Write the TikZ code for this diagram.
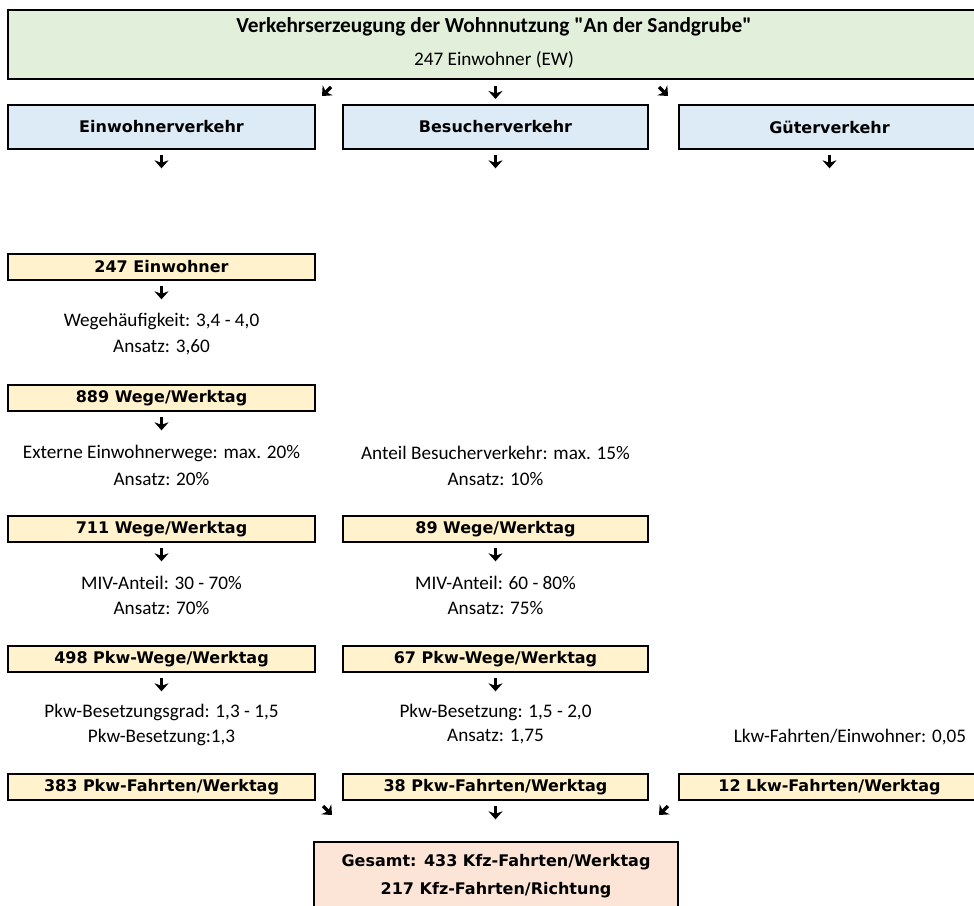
\documentclass[tikz,border=0pt]{standalone}
\usepackage{fontspec}
\setmainfont{Carlito}
\newfontfamily\boxfont{DejaVu Sans}
\newfontfamily\titlefont{Carlito}[Ligatures=TeXOff]
\usetikzlibrary{arrows.meta}

\definecolor{headgreen}{HTML}{E2EFDA}
\definecolor{typeblue}{HTML}{DDEBF7}
\definecolor{stepyellow}{HTML}{FFF2CC}
\definecolor{sumpeach}{HTML}{FCE4D6}

\tikzset{
  frame/.style={draw=black, line width=1.5pt, inner sep=0pt, anchor=center},
  headbox/.style={frame, fill=headgreen, minimum width=729pt, minimum height=51.75pt},
  typebox/.style={frame, fill=typeblue, minimum height=33pt,
    font=\boxfont\bfseries\fontsize{12}{14}\selectfont},
  stepbox/.style={frame, fill=stepyellow, minimum height=19.5pt,
    font=\boxfont\bfseries\fontsize{12}{14}\selectfont},
  sumbox/.style={frame, fill=sumpeach, minimum width=273pt, minimum height=58.5pt},
  sumtext/.style={inner sep=0pt, font=\boxfont\bfseries\fontsize{12}{14}\selectfont},
  note/.style={inner sep=0pt, font=\fontsize{14.4}{17}\selectfont},
  tick/.style={-{Stealth[length=6pt, width=10.5pt, inset=1.8pt]}, line width=2.6pt},
}

\begin{document}
\begin{tikzpicture}[x=0.75pt, y=-0.75pt]
  \useasboundingbox (0,0) rectangle (974,906);

  % Kopf
  \node[headbox] (head) at (494,44.5) {};
  \node[inner sep=0pt, font=\titlefont\bfseries\fontsize{16}{19}\selectfont] (title) at (494,27)
    {Verkehrserzeugung der Wohnnutzung "An der Sandgrube"};
  \node[note] (ewsum) at (494,60) {247 Einwohner (EW)};
  \coordinate (hl) at (331,87);
  \coordinate (hm) at (495.5,86);
  \coordinate (hr) at (659,87);
  \draw[tick] (hl) -- ++(-9,9);
  \draw[tick] (hm) -- ++(0,13);
  \draw[tick] (hr) -- ++(9,9);

  % Verkehrsarten
  \node[typebox, minimum width=230.25pt] (ew)  at (161.5,127) {Einwohnerverkehr};
  \node[typebox, minimum width=228.75pt] (bes) at (495.5,127) {Besucherverkehr};
  \node[typebox, minimum width=225.75pt] (gue) at (829.5,127) {Güterverkehr};
  \draw[tick] ([yshift=-4pt]ew.south)  -- ++(0,13);
  \draw[tick] ([yshift=-4pt]bes.south) -- ++(0,13);
  \draw[tick] ([yshift=-4pt]gue.south) -- ++(0,13);

  % Einwohnerverkehr
  \node[stepbox, minimum width=230.25pt] (ew1) at (161.5,267) {247 Einwohner};
  \draw[tick] ([yshift=-4pt]ew1.south) -- ++(0,13);
  \node[note] (ew1a) at (161.5,321) {Wegehäufigkeit: 3,4 - 4,0};
  \node[note] (ew1b) at (161.5,347) {Ansatz: 3,60};

  \node[stepbox, minimum width=230.25pt] (ew2) at (161.5,398) {889 Wege/Werktag};
  \draw[tick] ([yshift=-4pt]ew2.south) -- ++(0,13);
  \node[note] (ew2a) at (161.5,453) {Externe Einwohnerwege: max. 20\%};
  \node[note] (ew2b) at (161.5,479) {Ansatz: 20\%};

  \node[stepbox, minimum width=230.25pt] (ew3) at (161.5,529) {711 Wege/Werktag};
  \draw[tick] ([yshift=-4pt]ew3.south) -- ++(0,13);
  \node[note] (ew3a) at (161.5,583) {MIV-Anteil: 30 - 70\%};
  \node[note] (ew3b) at (161.5,608) {Ansatz: 70\%};

  \node[stepbox, minimum width=230.25pt] (ew4) at (161.5,659) {498 Pkw-Wege/Werktag};
  \draw[tick] ([yshift=-4pt]ew4.south) -- ++(0,13);
  \node[note] (ew4a) at (161.5,712) {Pkw-Besetzungsgrad: 1,3 - 1,5};
  \node[note] (ew4b) at (161.5,737) {Pkw-Besetzung:1,3};

  \node[stepbox, minimum width=230.25pt] (ew5) at (161.5,787) {383 Pkw-Fahrten/Werktag};

  % Besucherverkehr
  \node[note] (bes2a) at (495.5,453) {Anteil Besucherverkehr: max. 15\%};
  \node[note] (bes2b) at (495.5,479) {Ansatz: 10\%};

  \node[stepbox, minimum width=228.75pt] (bes3) at (495.5,529) {89 Wege/Werktag};
  \draw[tick] ([yshift=-4pt]bes3.south) -- ++(0,13);
  \node[note] (bes3a) at (495.5,583) {MIV-Anteil: 60 - 80\%};
  \node[note] (bes3b) at (495.5,608) {Ansatz: 75\%};

  \node[stepbox, minimum width=228.75pt] (bes4) at (495.5,659) {67 Pkw-Wege/Werktag};
  \draw[tick] ([yshift=-4pt]bes4.south) -- ++(0,13);
  \node[note] (bes4a) at (495.5,712) {Pkw-Besetzung: 1,5 - 2,0};
  \node[note] (bes4b) at (495.5,737) {Ansatz: 1,75};

  \node[stepbox, minimum width=228.75pt] (bes5) at (495.5,787) {38 Pkw-Fahrten/Werktag};

  % Gueterverkehr
  \node[note] (gue4b) at (850,737) {Lkw-Fahrten/Einwohner: 0,05};
  \node[stepbox, minimum width=225.75pt] (gue5) at (829.5,787) {12 Lkw-Fahrten/Werktag};

  % Summe
  \coordinate (sl) at (323,806);
  \coordinate (sr) at (668,806);
  \draw[tick] (sl) -- ++(9,9);
  \draw[tick] ([yshift=-4pt]bes5.south) -- ++(0,13);
  \draw[tick] (sr) -- ++(-9,9);
  \node[sumbox] (sum) at (496,881) {};
  \node[sumtext] (sum1) at (496,862) {Gesamt: 433 Kfz-Fahrten/Werktag};
  \node[sumtext] (sum2) at (496,890) {217 Kfz-Fahrten/Richtung};
\end{tikzpicture}
\end{document}
